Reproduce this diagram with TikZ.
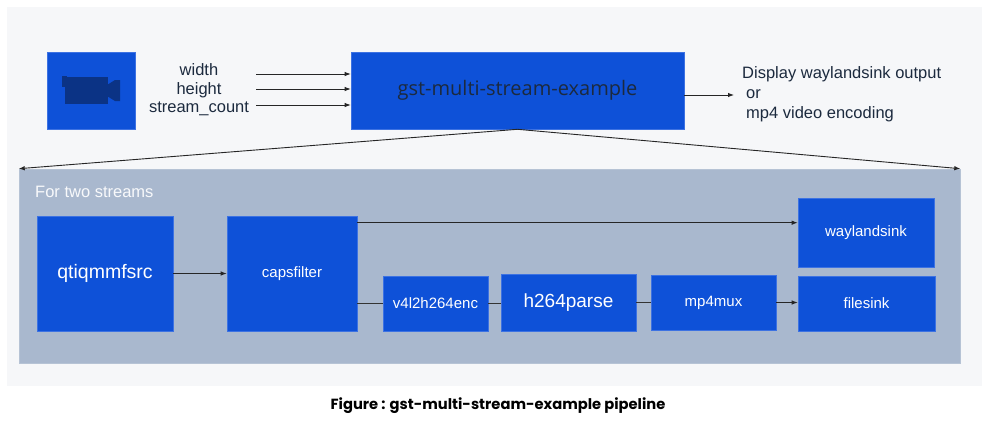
\documentclass[tikz,border=0pt]{standalone}
\usepackage{fontspec}
\setmainfont{Liberation Sans}
\newfontfamily\titlefont{Open Sans}
\newfontfamily\capfont{Poppins}
\usetikzlibrary{arrows.meta}
\definecolor{blk}{HTML}{0E51D8}
\definecolor{blkline}{HTML}{3D72E2}
\definecolor{panel}{HTML}{A9B8CE}
\definecolor{bg}{HTML}{F6F7F9}
\definecolor{ink}{HTML}{1C2A3E}
\definecolor{cam}{HTML}{0B3385}
\tikzset{
  blockbox/.style={fill=blk, draw=blkline, line width=0.6pt, inner sep=0pt, text=white, font=\fontsize{15}{18}\selectfont},
  arr/.style={draw=black!85, line width=0.9pt, -{Latex[length=6pt,width=4.5pt]}},
  ln/.style={draw=black!80, line width=0.9pt},
}
\begin{document}
\begin{tikzpicture}[x=1pt,y=-1pt]
\useasboundingbox (0,0) rectangle (988,434);
\fill[white] (0,0) rectangle (988,434);
\fill[bg] (7,7) rectangle (982,386);
% top row
\node[blockbox, minimum width=88, minimum height=77] (camera) at (91,90.5) {};
\fill[cam] (62,76) rectangle (67,87);
\fill[cam] (65,77) rectangle (108,104);
\fill[cam] (107,85) -- (115,80) -- (120,80) -- (120,101) -- (115,101) -- (107,96) -- cycle;
\node[text=ink, align=center, font=\fontsize{16.5}{18.5}\selectfont] (params) at (199,90) {width\\height\\stream\_count};
\node[blockbox, minimum width=333, minimum height=77, text=ink, font=\titlefont\fontsize{20}{24}\selectfont] (main) at (517.5,90.5) {gst-multi-stream-example};
\coordinate (inw) at (256,74);
\coordinate (inh) at (256,89);
\coordinate (ins) at (256,105);
\draw[arr] (inw) -- (inw -| main.west);
\draw[arr] (inh) -- (inh -| main.west);
\draw[arr] (ins) -- (ins -| main.west);
\coordinate (outend) at (734,95);
\draw[arr] (outend -| main.east) -- (outend);
\node[text=ink, anchor=north west, align=left, inner sep=0pt, font=\fontsize{16.5}{20}\selectfont] (outtxt) at (742,66) {Display waylandsink output\\\hspace*{4pt}or\\\hspace*{4pt}mp4 video encoding};
% panel
\node[fill=panel, draw=panel!85!white, line width=0.6pt, minimum width=941, minimum height=194, inner sep=0pt] (pan) at (489.5,266) {};
\draw[arr] (main.south) -- (pan.north west);
\draw[arr] (main.south) -- (pan.north east);
\node[anchor=west, text=white!92!panel, font=\fontsize{16.5}{18}\selectfont, inner sep=0pt] (lbl) at (35,192) {For two streams};
% pipeline
\node[blockbox, minimum width=136, minimum height=115, font=\fontsize{19.5}{22}\selectfont] (src) at (105,273.5) {qtiqmmfsrc};
\node[blockbox, minimum width=130, minimum height=115] (caps) at (292,273.5) {capsfilter};
\node[blockbox, minimum width=105, minimum height=55] (enc) at (435.5,303.5) {v4l2h264enc};
\node[blockbox, minimum width=135, minimum height=57, font=\fontsize{19}{22}\selectfont] (parse) at (568.5,302.5) {h264parse};
\node[blockbox, minimum width=125, minimum height=55] (mux) at (713.5,302.5) {mp4mux};
\node[blockbox, minimum width=137, minimum height=55] (fsink) at (866.5,303.5) {filesink};
\node[blockbox, minimum width=136, minimum height=69] (wsink) at (866,232.5) {waylandsink};
\draw[arr] (src) -- (caps);
\draw[arr] ([yshift=-7pt]caps.north east) coordinate (c1) -- (c1 -| wsink.west);
\draw[ln] (enc.west -| caps.east) -- (enc.west);
\draw[ln] (enc.east) -- (enc.east -| parse.west);
\draw[ln] (parse.east) -- (parse.east -| mux.west);
\draw[arr] (mux.east) -- (mux.east -| fsink.west);
% caption
\node[font=\capfont\bfseries\fontsize{14.7}{17}\selectfont, text=black] (cap) at (498,406) {Figure : gst-multi-stream-example pipeline};
\end{tikzpicture}
\end{document}
